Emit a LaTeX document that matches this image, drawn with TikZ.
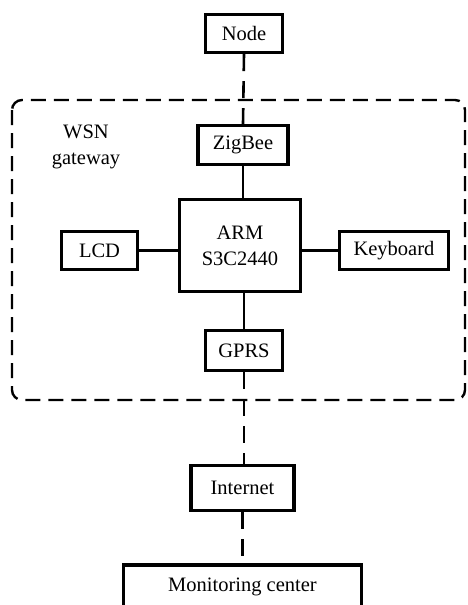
\documentclass[tikz,border=0pt]{standalone}
\usepackage{fontspec}
\setmainfont{Liberation Serif}
\begin{document}
\begin{tikzpicture}[x=1pt,y=-1pt,
  box/.style={draw=black,line width=3.4pt,inner sep=0pt,align=center,font=\fontsize{20.5}{26}\selectfont},
  link/.style={line width=2.6pt},
  dlink/.style={line width=2.6pt,dash pattern=on 17pt off 10pt},
  frame/.style={line width=2.4pt,dash pattern=on 15pt off 8pt,rounded corners=10pt}]
\useasboundingbox (0,0) rectangle (467,605);
\clip (0,0) rectangle (467,605);
\draw[frame] (12,100) rectangle (465,400);
\node[font=\fontsize{20.5}{26}\selectfont,align=center] (lbl) at (86,147) {WSN\\gateway};
\node[box,minimum width=77pt,minimum height=38pt] (node) at (244,33.5) {Node};
\node[box,minimum width=90pt,minimum height=39pt] (zig) at (243,145) {ZigBee};
\node[box,minimum width=121pt,minimum height=92pt] (arm) at (240,245.5) {ARM\\S3C2440};
\node[box,minimum width=76pt,minimum height=38pt] (lcd) at (99.5,250.5) {LCD};
\node[box,minimum width=109pt,minimum height=38pt] (kbd) at (394,250.5) {Keyboard};
\node[box,minimum width=77pt,minimum height=40pt] (gprs) at (244,350.5) {GPRS};
\node[box,minimum width=103pt,minimum height=45pt] (inet) at (242.5,488) {Internet};
\node[box,minimum width=238pt,minimum height=70pt,text depth=0pt] (mon) at (242.5,600) {};
\node[font=\fontsize{20.5}{26}\selectfont] (montext) at (242.5,587) {Monitoring center};
\draw[dlink] (node.south) -- (zig.north);
\draw[link] (zig.south) -- (zig.south |- arm.north);
\draw[link] (lcd.east) -- (arm.west |- lcd.east);
\draw[link] (kbd.west) -- (arm.east |- kbd.west);
\draw[link] (gprs.north) -- (gprs.north |- arm.south);
\draw[dlink] (gprs.south) -- (gprs.south |- inet.north);
\draw[dlink] (inet.south) -- (inet.south |- mon.north);
\end{tikzpicture}
\end{document}
